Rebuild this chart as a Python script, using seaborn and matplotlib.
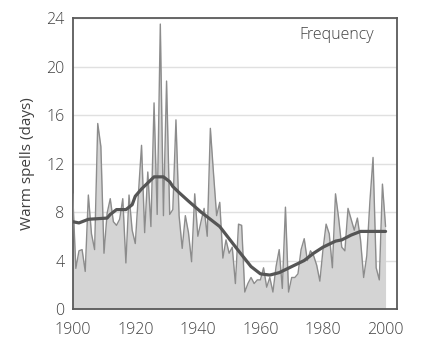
import numpy as np
import pandas as pd
import matplotlib
matplotlib.use("Agg")
import matplotlib.pyplot as plt
import seaborn as sns

# Annual number of warm-spell days, 1900-2000
years = list(range(1900, 2001))
warm_days = [
    9.5, 3.35, 4.8, 4.9, 3.1, 9.4, 6.2, 4.9, 15.3, 13.4,
    4.6, 7.9, 9.1, 7.2, 6.9, 7.4, 9.1, 3.8, 9.4, 6.5,
    5.4, 9.5, 13.5, 6.3, 11.3, 6.8, 17.0, 7.8, 23.5, 7.7,
    18.8, 7.8, 8.2, 15.6, 7.7, 5.0, 7.7, 6.3, 3.9, 9.5,
    6.0, 7.2, 8.3, 6.0, 14.9, 11.2, 7.7, 8.8, 4.2, 5.7,
    4.6, 5.1, 2.1, 7.0, 6.9, 1.4, 2.1, 2.6, 2.1, 2.4,
    2.4, 3.4, 1.8, 2.6, 1.4, 3.5, 4.9, 1.7, 8.4, 1.4,
    2.6, 2.6, 2.9, 4.9, 5.8, 4.0, 4.8, 4.4, 3.6, 2.3,
    4.9, 7.0, 6.2, 3.4, 9.5, 7.5, 5.1, 4.8, 8.3, 7.4,
    6.5, 7.5, 5.7, 2.6, 4.4, 8.9, 12.5, 3.4, 2.4, 10.3,
    6.8,
]

# Smoothed trend (thick line)
trend_years = [1900, 1902, 1905, 1911, 1912, 1914, 1917, 1918, 1919, 1920,
               1922, 1924, 1926, 1929, 1931, 1932, 1934, 1937, 1941, 1944,
               1947, 1950, 1953, 1957, 1960, 1963, 1966, 1970, 1974, 1977,
               1980, 1984, 1986, 1989, 1992, 1995, 2000]
trend_values = [7.2, 7.1, 7.4, 7.5, 7.8, 8.2, 8.2, 8.4, 8.6, 9.3,
                9.9, 10.4, 10.9, 10.9, 10.5, 10.1, 9.6, 8.9, 8.0, 7.4,
                6.8, 5.8, 4.8, 3.5, 2.9, 2.8, 3.0, 3.5, 4.0, 4.6,
                5.1, 5.6, 5.7, 6.1, 6.4, 6.4, 6.4]

yticks = [0, 4, 8, 12, 16, 20, 24]
xticks = [1900, 1920, 1940, 1960, 1980, 2000]

annual = pd.DataFrame({"year": years, "days": warm_days})
trend = pd.DataFrame({"year": trend_years, "days": trend_values})

sns.set_theme(style="white")
plt.rcParams["font.family"] = ["Open Sans", "DejaVu Sans"]
plt.rcParams["font.weight"] = "light"
text_color = "#404040"

fig = plt.figure(figsize=(4.31, 3.53), dpi=100)
ax = fig.add_axes([0.1687, 0.1246, 0.752, 0.8244])

ax.fill_between(annual["year"], annual["days"], 0, color="#d4d4d4", linewidth=0, zorder=1)
sns.lineplot(data=annual, x="year", y="days", ax=ax, color="#8c8c8c", linewidth=1.0, zorder=3)
sns.lineplot(data=trend, x="year", y="days", ax=ax, color="#555555", linewidth=2.3, zorder=4)

ax.set_xlim(1900, 2003.6)
ax.set_ylim(0, 24)
ax.set_xticks(xticks)
ax.set_yticks(yticks)
ax.yaxis.grid(True, color="#e0e0e0", linewidth=1.0, zorder=0)
ax.set_axisbelow(True)
ax.tick_params(length=0, labelsize=11.5, labelcolor=text_color)
ax.tick_params(axis="x", pad=9)
ax.tick_params(axis="y", pad=6)

for side in ax.spines.values():
    side.set_color("#5a5a5a")
    side.set_linewidth(1.3)

ax.set_xlabel("")
ax.set_ylabel("Warm spells (days)", fontsize=11, color=text_color, labelpad=8)
ax.text(0.93, 0.94, "Frequency", transform=ax.transAxes, ha="right", va="center",
        fontsize=11.5, color=text_color)

fig.savefig("out.png", dpi=100)
